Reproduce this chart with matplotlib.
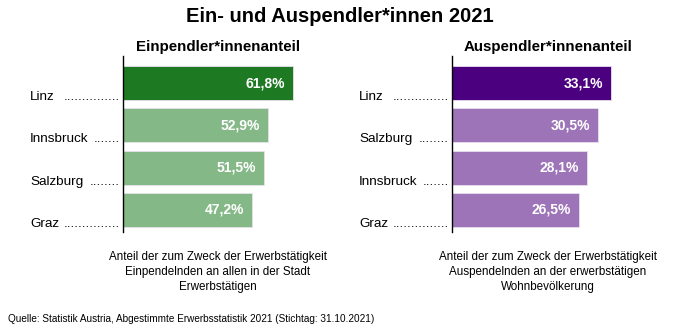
import matplotlib.pyplot as plt

plt.rcParams['font.family'] = ['Liberation Sans', 'DejaVu Sans']

# Einpendler*innenanteil
ein_staedte = ["Linz", "Innsbruck", "Salzburg", "Graz"]
ein_werte = [61.8, 52.9, 51.5, 47.2]
ein_dots = [15, 7, 8, 15]

# Auspendler*innenanteil
aus_staedte = ["Linz", "Salzburg", "Innsbruck", "Graz"]
aus_werte = [33.1, 30.5, 28.1, 26.5]
aus_dots = [15, 8, 7, 15]

W, H = 680, 331
fig = plt.figure(figsize=(W / 100, H / 100), dpi=100)


def panel(left_px, xmax, staedte, werte, dots, dunkel, hell, titel, fuss, center_px):
    ax = fig.add_axes([left_px / W, 1 - 232 / H, 192 / W, 176 / H])
    y = list(range(len(werte)))
    farben = [dunkel] + [hell] * (len(werte) - 1)
    ax.barh(y, werte, height=0.8, color=farben, edgecolor='#e8e0ee', linewidth=0.6)
    ax.set_xlim(0, xmax)
    ax.set_ylim(3.52, -0.64)
    for s in ['top', 'right', 'bottom']:
        ax.spines[s].set_visible(False)
    ax.spines['left'].set_linewidth(1.0)
    ax.set_xticks([])
    ax.set_yticks([])
    px = xmax / 192
    for yi, v in zip(y, werte):
        ax.text(v - 8 * px, yi, f"{v:.1f}%".replace('.', ','), color='white',
                fontsize=10, fontweight='bold', ha='right', va='center')
    for yi, name, n in zip(y, staedte, dots):
        ax.text(-93 * px, yi + 0.33, name, fontsize=9.7,
                ha='left', va='center', clip_on=False)
        ax.text(-3 * px, yi + 0.33, "." * n, fontsize=9.7, ha='right', va='center',
                clip_on=False)
    fig.text(center_px / W, 1 - 47 / H, titel, fontsize=10.9, fontweight='bold',
             ha='center', va='center')
    fig.text(center_px / W, 1 - 272 / H, fuss, fontsize=8.4, ha='center', va='center',
             linespacing=1.3)
    return ax


panel(123, 70, ein_staedte, ein_werte, ein_dots, '#1e7a22', '#84b886',
      "Einpendler*innenanteil", "Anteil der zum Zweck der Erwerbstätigkeit\n"
      "Einpendelnden an allen in der Stadt\nErwerbstätigen", 218)
panel(452, 40, aus_staedte, aus_werte, aus_dots, '#4b0080', '#9d74b8',
      "Auspendler*innenanteil", "Anteil der zum Zweck der Erwerbstätigkeit\n"
      "Auspendelnden an der erwerbstätigen\nWohnbevölkerung", 548)

fig.text(0.5, 1 - 17 / H, "Ein- und Auspendler*innen 2021", fontsize=14.5,
         fontweight='bold', ha='center', va='center')
fig.text(8 / W, 1 - 319 / H,
         "Quelle: Statistik Austria, Abgestimmte Erwerbsstatistik 2021 (Stichtag: 31.10.2021)",
         fontsize=7.2, ha='left', va='center')

fig.savefig("out.png", dpi=100)
